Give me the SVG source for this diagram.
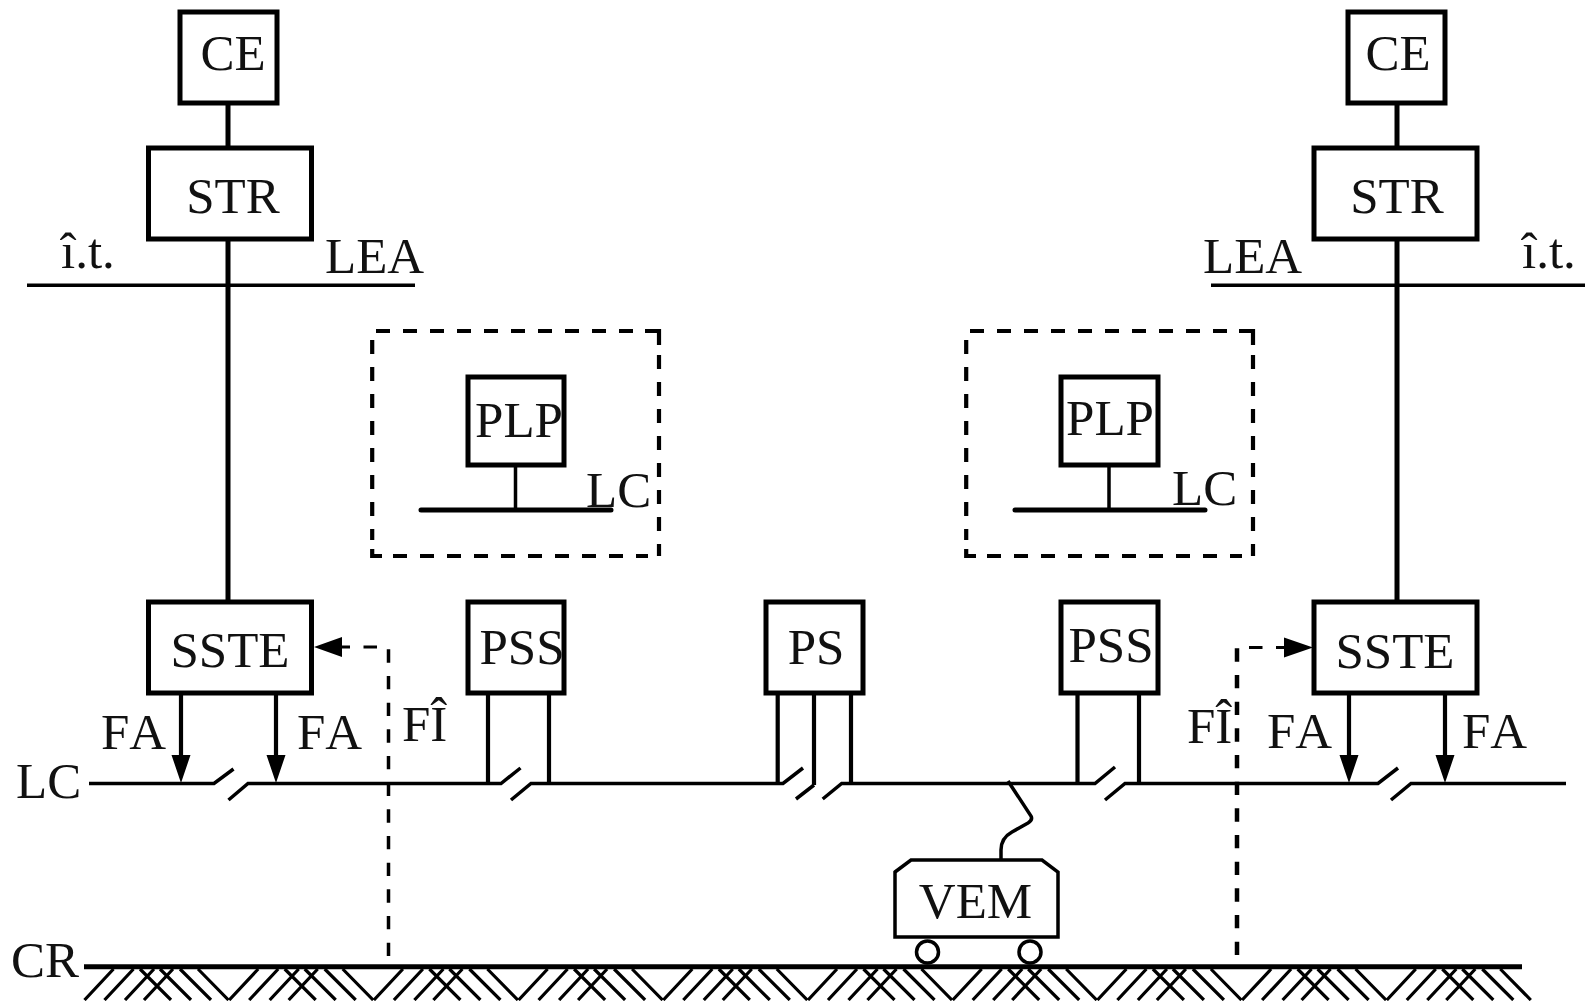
<svg xmlns="http://www.w3.org/2000/svg" width="1585" height="1001" viewBox="0 0 1585 1001">
<style>
text{font-family:"Liberation Serif","Times New Roman",serif;font-size:51px;fill:#111}
.m{text-anchor:middle}
.n{font-kerning:none}
.b{fill:#fff;stroke:#000;stroke-width:5}
.l{fill:none;stroke:#000;stroke-width:3.500}
.t{fill:none;stroke:#000;stroke-width:5}
.g{fill:none;stroke:#000;stroke-width:3.200}
.d{fill:none;stroke:#000;stroke-width:3.500;stroke-dasharray:13.300 13.370}
.e{fill:none;stroke:#000;stroke-width:4.500;stroke-dasharray:13.300 13.370}
.h{fill:none;stroke:#000;stroke-width:3;stroke-dasharray:13.500 13.500}
.x{fill:none;stroke:#000;stroke-width:4.200;stroke-dasharray:14 13}
.c{fill:none;stroke:#000;stroke-width:4.200}
.a{fill:#000}
</style>
<defs>
<path id="h" class="g" d="M84.500 1000L113.500 969M104.500 1000L133.500 969M125 1000L154 969M144 1000L173 969M140 969L171 1000M160 969L191 1000M180 969L211 1000M198 969L228.500 1000"/>
<g id="box">
<path class="x" d="M376 331H645"/><path class="c" d="M645 331H659V345"/>
<path class="x" d="M659 355V556"/>
<path class="x" d="M393 556H648"/><path class="c" d="M372.200 549V556H382"/>
<path class="x" d="M372.200 340V540"/>
</g>
</defs>
<g id="connectors">
<path class="t" d="M228 103V148M228 239V602M1397 103V148M1397 239V602"/>
<path class="l" d="M27 285.300H415M1211 285.300H1585"/>
<path class="l" d="M515.500 465V509M1109 465V509"/>
<path class="t" stroke-linecap="round" d="M421 510H611M1015 510H1205"/>
<path class="l" d="M89 783.500H214L233.500 769M228.500 800L248 783.500H501L520.500 768M511 800L531 783.500H783L803 768M796 799L814 785M822.700 799L841.700 783.500H1095L1115 767M1105 800L1125 783.500H1378L1398 768M1391 800L1411 783.500H1566"/>
<path class="c" d="M488 692V785M549 692V785M777.700 692V785M814 692V785M851 692V785M1077.500 692V785M1139 692V785"/>
<path class="c" d="M181 692V760M276 692V760M1349 692V760M1445 692V760"/>
<path class="a" d="M181 783L171.500 755H190.500ZM276 783L266.500 755H285.500ZM1349 783L1339.500 755H1358.500ZM1445 783L1435.500 755H1454.500Z"/>
<path class="l" d="M1008 781L1031 816Q1033 820 1028 823L1012 832Q1001 838 1001 850V860"/>
<path class="d" d="M388.500 956V649"/><path class="h" d="M377 647H342"/>
<path class="e" d="M1237 955V648"/><path class="h" d="M1249 647.500H1284"/>
<path class="a" d="M314 647L342 637V657ZM1313 647.500L1284 637.500V657.500Z"/>
<use href="#box"/><use href="#box" x="594"/>
<path class="t" d="M84 966.700H1522"/>
<g><use href="#h"/><use href="#h" x="144.700"/><use href="#h" x="289.400"/><use href="#h" x="434.100"/><use href="#h" x="578.800"/><use href="#h" x="723.500"/><use href="#h" x="868.200"/><use href="#h" x="1012.900"/><use href="#h" x="1157.600"/><use href="#h" x="1302.300"/></g>
</g>
<g id="ce-l"><rect class="b" x="180" y="12" width="97" height="91"/><text class="m" x="233" y="70">CE</text></g>
<g id="str-l"><rect class="b" x="148.500" y="148" width="163" height="91"/><text class="m" x="233" y="212.500">STR</text></g>
<g id="ce-r"><rect class="b" x="1348" y="12" width="97" height="91"/><text class="m" x="1398" y="70">CE</text></g>
<g id="str-r"><rect class="b" x="1314" y="148" width="163" height="91"/><text class="m" x="1397" y="212.500">STR</text></g>
<g id="lbl-top"><text x="61" y="268">î.t.</text><text x="325" y="272.500">LEA</text><text x="1203" y="272.500">LEA</text><text x="1522" y="268">î.t.</text></g>
<g id="plp-l"><rect class="b" x="468" y="377" width="96" height="88"/><text class="m" x="519" y="437">PLP</text><text x="586" y="506.500">LC</text></g>
<g id="plp-r"><rect class="b" x="1061" y="377" width="97" height="88"/><text class="m" x="1110" y="435">PLP</text><text x="1172" y="505">LC</text></g>
<g id="sste-l"><rect class="b" x="148.500" y="602" width="163" height="91"/><text class="m" x="230" y="667">SSTE</text></g>
<g id="pss-l"><rect class="b" x="468" y="602" width="96" height="91"/><text class="m" x="522" y="664">PSS</text></g>
<g id="ps"><rect class="b" x="766" y="602" width="97" height="91"/><text class="m" x="816" y="664">PS</text></g>
<g id="pss-r"><rect class="b" x="1061" y="602" width="97" height="91"/><text class="m" x="1111" y="661.500">PSS</text></g>
<g id="sste-r"><rect class="b" x="1314" y="602" width="163" height="91"/><text class="m" x="1395" y="667.500">SSTE</text></g>
<g id="lbl-low"><text class="n" x="101" y="748.500">FA</text><text class="n" x="297" y="748.500">FA</text><text class="n" x="1267" y="748">FA</text><text class="n" x="1462" y="748">FA</text><text x="402" y="741">FÎ</text><text x="1187" y="743">FÎ</text><text x="16" y="798">LC</text><text x="11" y="977">CR</text></g>
<g id="vem"><path class="b" d="M895 872L911 860H1042L1058 872V937H895Z" style="stroke-width:3.500"/><circle class="l" cx="927.500" cy="952" r="11"/><circle class="l" cx="1030" cy="952" r="11"/><text class="m" x="975.500" y="917.500">VEM</text></g>
</svg>
